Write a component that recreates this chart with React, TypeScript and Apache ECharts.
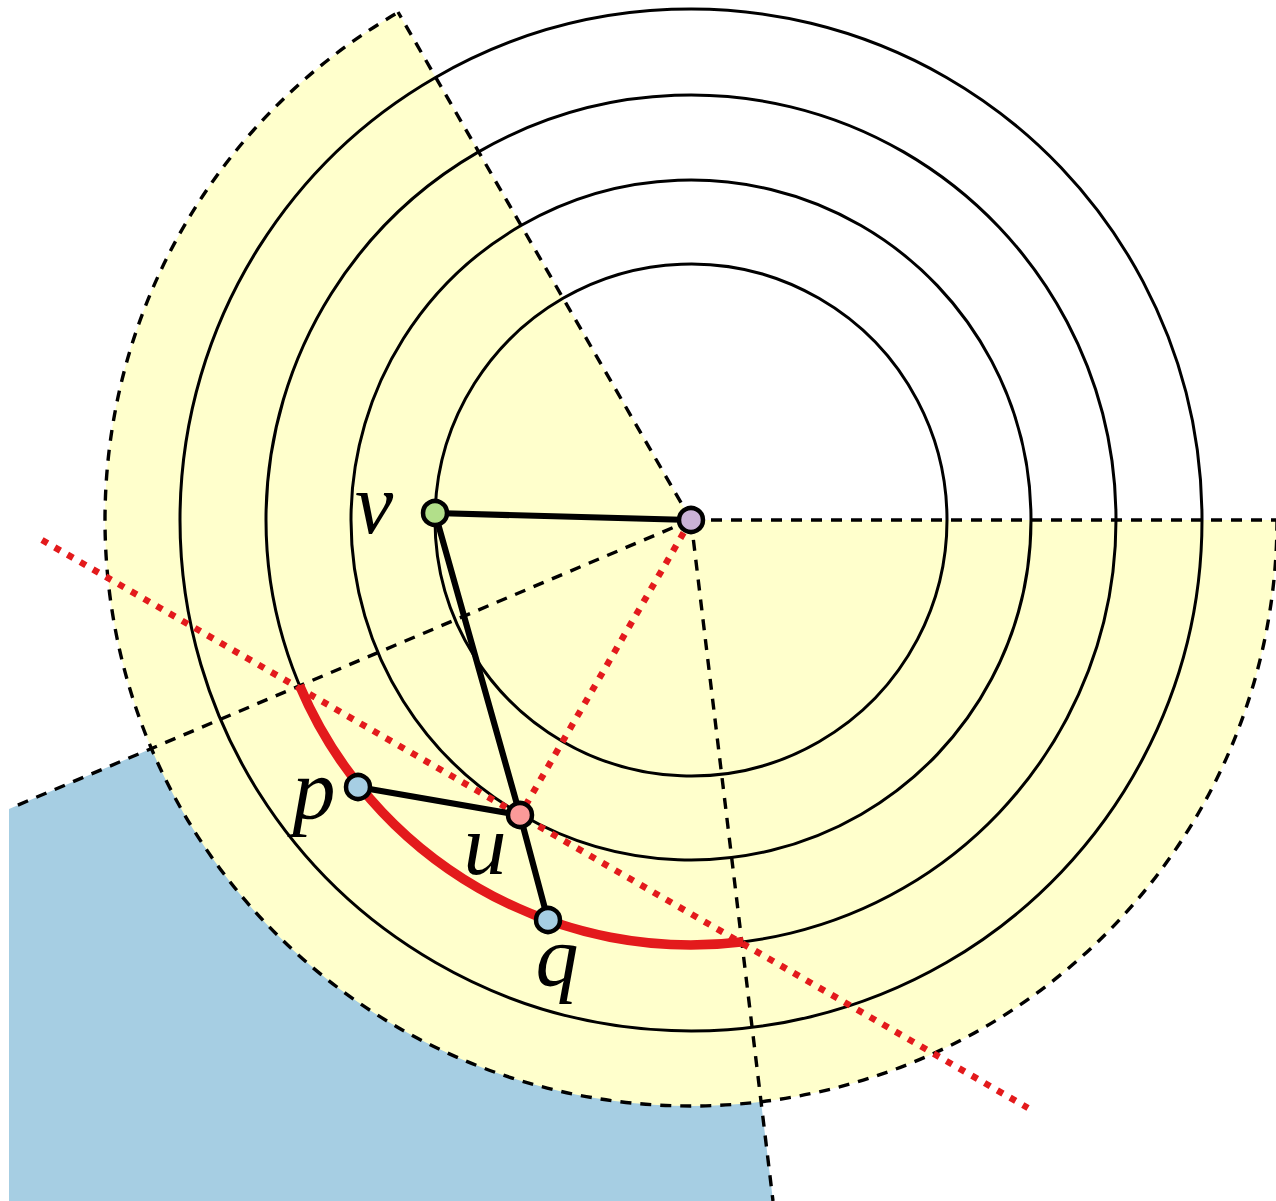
import React, { useEffect, useRef } from "react";
import * as echarts from "echarts";

// ---- data (page pixel coordinates, mapped through hidden value axes) ----
const center = [691, 520];
const ringRadii = [256, 340, 425, 511];
const outerRadius = 586;
const shadedSector = [120, 360]; // math degrees, counter-clockwise
const highlightArcRadius = 425;
const highlightArcAngles = [202.9, 277.1];
const rayEnds = [
  [1276, 520],
  [398, 12],
  [11, 808],
  [773, 1201],
];
const blueRegion = [
  [9, 809],
  [691, 520],
  [773, 1201],
  [9, 1201],
];
const nodeNames = ["c", "v", "p", "u", "q"];
const nodeX = [691, 435, 358, 520, 548];
const nodeY = [520, 513, 787, 815, 920];
const nodeFill = ["#cab2d6", "#b2df8a", "#a6cee3", "#fb9a99", "#a6cee3"];
const edges = [
  ["c", "v"],
  ["v", "u"],
  ["u", "q"],
  ["p", "u"],
];
const tangentEnds = [
  [42, 540],
  [1028, 1108],
];
const radialToU = ["c", "u"];
const labelNames = ["v", "p", "u", "q"];
const labelX = [374, 314, 485, 557];
const labelY = [504, 789, 845, 956];

const W = 1276;
const H = 1201;

const nodePos = (n: string) => {
  const i = nodeNames.indexOf(n);
  return [nodeX[i], nodeY[i]];
};
const toScreen = (deg: number) => (-deg * Math.PI) / 180;

export default function App() {
  const ref = useRef<HTMLDivElement>(null);
  useEffect(() => {
    document.body.style.margin = "0";
    const chart = echarts.init(ref.current!, null, { renderer: "svg", width: W, height: H });

    const segData = (pairs: number[][][]) => pairs.map((p) => [p[0][0], p[0][1], p[1][0], p[1][1]]);
    const segRender = (style: any) => (params: any, api: any) => {
      const a = api.coord([api.value(0), api.value(1)]);
      const b = api.coord([api.value(2), api.value(3)]);
      return {
        type: "line",
        shape: { x1: a[0], y1: a[1], x2: b[0], y2: b[1] },
        style: { fill: "none", ...style },
      };
    };

    const option: any = {
      animation: false,
      grid: { left: 0, right: 0, top: 0, bottom: 0 },
      xAxis: { type: "value", min: 0, max: W, show: false },
      yAxis: { type: "value", min: 0, max: H, inverse: true, show: false },
      series: [
        {
          type: "custom",
          z: 1,
          silent: true,
          data: [[center[0], center[1]]],
          renderItem: (params: any, api: any) => ({
            type: "polygon",
            shape: { points: blueRegion.map((p) => api.coord(p)) },
            style: { fill: "#a6cee3", stroke: "none" },
          }),
        },
        {
          type: "custom",
          z: 2,
          silent: true,
          data: [[center[0], center[1], outerRadius]],
          renderItem: (params: any, api: any) => {
            const c = api.coord([api.value(0), api.value(1)]);
            const r = api.size([api.value(2), 0])[0];
            return {
              type: "group",
              children: [
                {
                  type: "sector",
                  shape: {
                    cx: c[0],
                    cy: c[1],
                    r0: 0,
                    r,
                    startAngle: toScreen(shadedSector[1]),
                    endAngle: toScreen(shadedSector[0]),
                    clockwise: true,
                  },
                  style: { fill: "#ffffcc", stroke: "none" },
                },
                {
                  type: "arc",
                  shape: {
                    cx: c[0],
                    cy: c[1],
                    r,
                    startAngle: toScreen(shadedSector[1]),
                    endAngle: toScreen(shadedSector[0]),
                    clockwise: true,
                  },
                  style: { fill: "none", stroke: "#000", lineWidth: 3.4, lineDash: [11, 9] },
                },
              ],
            };
          },
        },
        {
          type: "custom",
          z: 3,
          silent: true,
          data: segData(rayEnds.map((e) => [center, e])),
          renderItem: segRender({ stroke: "#000", lineWidth: 3.4, lineDash: [11, 9] }),
        },
        {
          type: "custom",
          z: 4,
          silent: true,
          data: ringRadii.map((r) => [center[0], center[1], r]),
          renderItem: (params: any, api: any) => {
            const c = api.coord([api.value(0), api.value(1)]);
            const r = api.size([api.value(2), 0])[0];
            return {
              type: "circle",
              shape: { cx: c[0], cy: c[1], r },
              style: { fill: "none", stroke: "#000", lineWidth: 3 },
            };
          },
        },
        {
          type: "custom",
          z: 5,
          silent: true,
          data: [[center[0], center[1], highlightArcRadius]],
          renderItem: (params: any, api: any) => {
            const c = api.coord([api.value(0), api.value(1)]);
            const r = api.size([api.value(2), 0])[0];
            return {
              type: "arc",
              shape: {
                cx: c[0],
                cy: c[1],
                r,
                startAngle: toScreen(highlightArcAngles[1]),
                endAngle: toScreen(highlightArcAngles[0]),
                clockwise: true,
              },
              style: { fill: "none", stroke: "#e31a1c", lineWidth: 9.5, lineCap: "butt" },
            };
          },
        },
        {
          type: "custom",
          z: 6,
          silent: true,
          data: segData([tangentEnds, [nodePos(radialToU[0]), nodePos(radialToU[1])]]),
          renderItem: segRender({ stroke: "#e31a1c", lineWidth: 6.5, lineDash: [6.5, 8.2], lineCap: "butt" }),
        },
        {
          type: "custom",
          z: 7,
          silent: true,
          data: segData(edges.map((e) => [nodePos(e[0]), nodePos(e[1])])),
          renderItem: segRender({ stroke: "#000", lineWidth: 6.2, lineCap: "round" }),
        },
        {
          type: "scatter",
          z: 8,
          silent: true,
          symbol: "circle",
          symbolSize: 24,
          data: nodeNames.map((n, i) => ({
            name: n,
            value: [nodeX[i], nodeY[i]],
            itemStyle: { color: nodeFill[i], borderColor: "#000", borderWidth: 4.5, opacity: 1 },
          })),
        },
        {
          type: "custom",
          z: 9,
          silent: true,
          data: labelNames.map((n, i) => [labelX[i], labelY[i], n]),
          renderItem: (params: any, api: any) => {
            const p = api.coord([api.value(0), api.value(1)]);
            return {
              type: "text",
              x: p[0],
              y: p[1],
              style: {
                text: labelNames[params.dataIndex],
                fontFamily: "Liberation Serif",
                fontStyle: "italic",
                fontSize: 86,
                fill: "#000",
                align: "center",
                verticalAlign: "middle",
                textAlign: "center",
                textVerticalAlign: "middle",
              },
            };
          },
        },
      ],
    };
    chart.setOption(option);
    return () => chart.dispose();
  }, []);
  return <div ref={ref} style={{ position: "fixed", left: 0, top: 0, width: W, height: H }} />;
}
